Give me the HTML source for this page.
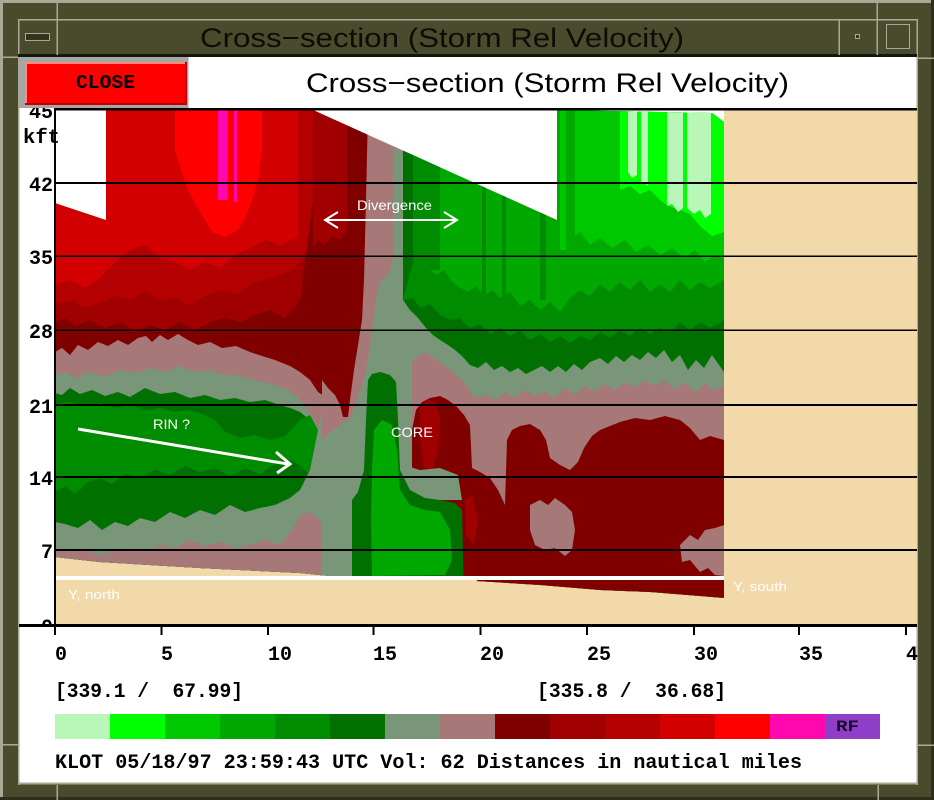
<!DOCTYPE html>
<html><head><meta charset="utf-8"><style>
html,body{margin:0;padding:0;background:#4a4b2c;width:934px;height:800px;overflow:hidden}
svg{display:block}
.m{font-family:"Liberation Mono",monospace;font-weight:bold}
.s{font-family:"Liberation Sans",sans-serif}
</style></head><body>
<svg width="934" height="800" viewBox="0 0 934 800" xmlns="http://www.w3.org/2000/svg">
<defs>
<clipPath id="dc"><polygon points="55,203 106,220 106,110 313,110 557,220 557,110 712,113 724,122 724,598 700,596 650,592 600,590 540,585 477,581 477,577 330,576 300,573 200,568 100,562 55,557"/></clipPath>
</defs>
<!-- frame -->
<rect x="0" y="0" width="934" height="800" fill="#4a4b2c"/>
<rect x="0" y="0" width="934" height="3" fill="#a9a996"/>
<rect x="0" y="0" width="3" height="800" fill="#a9a996"/>
<rect x="931" y="0" width="3" height="800" fill="#2e2f1a"/>
<rect x="0" y="797" width="934" height="3" fill="#2e2f1a"/>
<rect x="18" y="19" width="900" height="1.5" fill="#a9a996"/>
<rect x="18" y="19" width="1.5" height="766" fill="#a9a996"/>
<rect x="916.5" y="19" width="1.5" height="766" fill="#a9a996"/>
<rect x="18" y="782.5" width="900" height="2" fill="#a9a996"/>
<rect x="18" y="54" width="899" height="3" fill="#15160b"/>
<rect x="56.5" y="0" width="1.5" height="55" fill="#a9a996"/>
<rect x="838.5" y="19" width="1.5" height="36" fill="#a9a996"/>
<rect x="876.5" y="0" width="1.5" height="55" fill="#a9a996"/>
<rect x="0" y="56.5" width="18" height="1.5" fill="#a9a996"/>
<rect x="918" y="57.5" width="16" height="1.5" fill="#a9a996"/>
<rect x="0" y="744" width="18" height="1.5" fill="#a9a996"/>
<rect x="918" y="744.5" width="16" height="1.5" fill="#a9a996"/>
<rect x="56.5" y="785" width="1.5" height="15" fill="#a9a996"/>
<rect x="877.5" y="785" width="1.5" height="15" fill="#a9a996"/>
<rect x="25.5" y="33.5" width="24" height="7" fill="#33341e" stroke="#a9a996" stroke-width="1"/>
<rect x="855.5" y="34.5" width="4" height="4" fill="#33341e" stroke="#a9a996" stroke-width="1"/>
<rect x="886.5" y="24.5" width="23" height="24" fill="none" stroke="#a9a996" stroke-width="1"/>
<text x="200" y="47" class="s" font-size="27" fill="#0c0c08" textLength="484" lengthAdjust="spacingAndGlyphs">Cross−section (Storm Rel Velocity)</text>
<!-- content -->
<rect x="19.5" y="57" width="897" height="725.5" fill="#ffffff"/>
<text x="306" y="92" class="s" font-size="27" fill="#000" textLength="483" lengthAdjust="spacingAndGlyphs">Cross−section (Storm Rel Velocity)</text>

<!-- plot background -->
<rect x="55" y="110" width="862" height="515" fill="#f2d9a9"/>
<rect x="55" y="110" width="669" height="130" fill="#ffffff"/>

<g clip-path="url(#dc)">
<!-- left bands -->
<rect x="55" y="110" width="275" height="490" fill="#d20000"/>
<path d="M175 110 H262 V150 L258 180 L252 200 L245 218 L238 230 L225 237 L212 232 L205 220 L196 205 L188 190 L181 170 L175 150 Z" fill="#ff0000"/>
<rect x="218" y="110" width="10" height="90" fill="#ff08b0"/>
<rect x="234" y="110" width="3" height="92" fill="#ff08b0"/>
<rect x="298" y="110" width="15" height="130" fill="#b40000"/>
<path d="M55 285 L70 280 L85 288 L100 278 L115 262 L130 250 L145 245 L160 258 L175 262 L190 270 L205 262 L220 268 L235 255 L250 248 L265 240 L280 245 L295 238 L313 232 L330 232 V600 H55 Z" fill="#b40000"/>
<path d="M55 305 L70 300 L85 308 L100 302 L115 296 L130 300 L145 292 L160 300 L175 298 L190 305 L205 296 L220 290 L235 295 L250 285 L265 280 L280 275 L295 268 L305 255 L313 240 L330 240 V600 H55 Z" fill="#a00000"/>
<path d="M55 322 L65 318 L75 326 L90 320 L105 328 L120 322 L135 332 L150 325 L165 330 L180 322 L195 330 L210 322 L225 318 L240 322 L255 315 L270 310 L285 318 L300 300 L313 290 L330 290 V600 H55 Z" fill="#800000"/>
<path d="M55 352 L62 348 L70 355 L78 345 L88 350 L98 342 L108 346 L118 340 L128 345 L138 338 L146 336 L152 342 L160 335 L168 340 L178 334 L188 340 L198 345 L210 342 L222 348 L236 346 L250 352 L262 356 L275 360 L290 366 L300 372 L310 380 L318 392 L330 400 V600 H55 Z" fill="#a77878"/>
<path d="M55 375 L65 372 L75 378 L90 372 L105 377 L120 370 L135 373 L150 368 L165 372 L180 366 L195 372 L210 370 L225 375 L240 376 L255 380 L270 384 L285 388 L295 395 L305 405 L315 422 L325 445 L330 460 V600 H55 Z" fill="#799679"/>
<path d="M55 393 L62 395 L70 388 L80 394 L92 390 L105 396 L118 392 L130 397 L145 388 L160 394 L175 392 L190 398 L205 395 L220 400 L235 398 L250 402 L265 400 L280 405 L290 408 L300 412 L310 420 L318 440 L322 470 V600 H55 Z" fill="#007000"/>
<path d="M55 404 L70 402 L85 406 L100 403 L115 408 L130 405 L145 410 L160 408 L175 412 L190 410 L205 415 L215 420 L225 432 L240 438 L255 435 L270 440 L285 436 L300 420 L310 415 L318 430 L322 470 V600 H55 Z" fill="#008c00"/>
<path d="M55 492 L65 486 L75 494 L88 482 L100 478 L112 484 L125 474 L140 478 L155 470 L170 475 L185 466 L200 472 L215 468 L230 476 L245 468 L260 474 L275 464 L285 458 L295 462 L305 470 L315 480 L322 500 V600 H55 Z" fill="#007000"/>
<path d="M55 522 L65 524 L78 528 L90 520 L102 530 L115 522 L128 526 L140 518 L155 522 L170 512 L185 518 L200 510 L215 515 L230 505 L245 512 L260 508 L275 505 L290 498 L300 490 L310 470 L318 430 L322 410 V600 H55 Z" fill="#799679"/>
<path d="M55 550 L70 552 L85 548 L100 556 L115 550 L130 548 L145 552 L160 545 L175 548 L190 540 L205 546 L220 542 L235 548 L250 545 L265 540 L280 545 L292 530 L300 515 L310 512 L318 518 L322 525 V600 H55 Z" fill="#a77878"/>

<!-- right side greens -->
<rect x="403" y="110" width="321" height="490" fill="#00a800"/>
<rect x="403" y="110" width="10" height="195" fill="#007000"/>
<rect x="413" y="110" width="27" height="160" fill="#008c00"/>
<rect x="482" y="110" width="4" height="185" fill="#008c00"/>
<rect x="502" y="110" width="4" height="190" fill="#008c00"/>
<rect x="540" y="110" width="6" height="190" fill="#008c00"/>
<rect x="560" y="110" width="6" height="140" fill="#00c800"/>
<path d="M575 110 H724 V258 L715 255 L705 262 L695 250 L685 258 L672 248 L660 255 L648 245 L636 252 L625 240 L612 248 L600 238 L590 245 L580 232 L575 236 Z" fill="#00c800"/>
<path d="M620 110 H724 V232 L712 236 L700 226 L690 214 L680 210 L668 206 L660 200 L650 190 L640 194 L630 186 L620 190 Z" fill="#00ff00"/>
<path d="M628 110 H637 V175 L632 178 L628 172 Z" fill="#b9f7b9"/>
<path d="M641 110 H648 V186 L644 182 L641 184 Z" fill="#b9f7b9"/>
<path d="M667 110 H683 V208 L678 212 L672 204 L667 206 Z" fill="#b9f7b9"/>
<path d="M687 110 H711 V214 L705 218 L700 210 L694 214 L687 208 Z" fill="#b9f7b9"/>
<path d="M403 300 L413 262 L420 265 L428 268 L436 275 L444 270 L452 282 L460 288 L468 292 L476 286 L484 296 L492 290 L500 298 L510 292 L520 306 L530 300 L540 310 L550 302 L560 312 L570 298 L580 290 L590 296 L600 284 L610 292 L620 282 L630 290 L640 280 L650 292 L660 284 L670 292 L680 280 L690 290 L700 282 L710 288 L724 280 V600 H403 Z" fill="#008c00"/>
<path d="M403 300 L413 298 L420 308 L430 304 L440 315 L450 320 L460 318 L470 328 L480 324 L490 334 L500 328 L510 336 L520 330 L530 340 L540 334 L550 342 L560 336 L570 343 L580 336 L590 340 L600 332 L610 338 L620 330 L630 336 L640 328 L650 334 L660 328 L670 332 L680 322 L690 330 L700 322 L710 328 L724 320 V600 H403 Z" fill="#007000"/>
<path d="M403 300 L410 310 L418 318 L426 328 L433 335 L440 340 L448 345 L455 350 L462 356 L470 365 L478 368 L486 362 L494 370 L502 366 L510 372 L518 368 L526 374 L534 370 L542 366 L550 372 L558 366 L566 372 L574 364 L582 370 L590 362 L600 358 L608 364 L616 356 L624 362 L632 355 L640 360 L648 352 L656 358 L664 350 L672 362 L680 355 L688 370 L696 360 L704 368 L712 355 L724 372 V600 H403 Z" fill="#799679"/>
<path d="M412 360 L425 352 L440 362 L450 370 L460 378 L468 388 L475 398 L485 395 L495 400 L505 392 L515 398 L525 390 L535 396 L545 392 L555 398 L565 388 L575 394 L585 386 L595 392 L605 384 L615 390 L625 382 L635 388 L645 380 L655 386 L665 380 L675 390 L685 382 L695 392 L705 384 L715 390 L724 385 V600 H412 Z" fill="#a77878"/>
<path d="M412 430 L416 410 L422 402 L430 398 L440 396 L448 400 L456 406 L464 415 L470 425 L472 468 L480 472 L490 478 L498 490 L505 505 L507 440 L512 430 L520 426 L530 424 L540 430 L546 440 L550 458 L560 465 L570 470 L578 462 L584 448 L592 436 L600 430 L610 426 L620 422 L635 418 L650 420 L665 416 L680 420 L690 428 L700 440 L710 436 L724 440 V600 H412 Z" fill="#800000"/>
<path d="M420 405 L428 400 L436 402 L440 420 L438 450 L432 470 L424 468 L420 440 Z" fill="#a00000"/>
<path d="M465 500 L472 495 L478 520 L474 545 L466 535 Z" fill="#a00000"/>
<path d="M530 505 L540 500 L548 505 L555 498 L565 505 L572 512 L575 530 L572 550 L565 556 L555 548 L545 550 L535 545 L530 530 Z" fill="#a77878"/>
<path d="M680 545 L690 535 L698 540 L705 530 L715 528 L724 525 V576 L715 575 L708 568 L700 572 L690 560 L682 562 Z" fill="#a77878"/>

<!-- middle -->
<rect x="322" y="110" width="81" height="490" fill="#a77878"/>
<path d="M313 200 L347 200 L347 110 H368 L366 200 L364 280 L362 320 L358 345 L354 370 L350 400 L348 417 L343 417 L340 405 L335 395 L328 388 L322 380 L316 370 L310 360 L300 330 L300 300 Z" fill="#800000"/>
<path d="M313 110 H347 V230 L340 240 L332 236 L325 245 L318 240 L313 248 Z" fill="#a00000"/>
<path d="M393 148 L403 152 L403 600 H322 V440 L330 432 L340 425 L350 418 L356 405 L362 385 L368 360 L372 330 L376 300 L380 282 L386 278 L393 260 Z" fill="#799679"/>
<path d="M403 465 L420 470 L440 468 L458 475 L462 500 L403 500 Z" fill="#799679"/>
<path d="M368 380 L372 374 L380 372 L390 375 L396 382 L398 420 L400 470 L410 490 L425 498 L440 500 L455 503 L462 510 L464 600 L352 600 L352 500 L358 492 L364 470 L366 420 Z" fill="#007000"/>
<path d="M374 430 L382 420 L392 425 L397 450 L400 490 L410 505 L425 510 L440 512 L450 530 L452 560 L445 575 L372 576 L371 520 L372 470 Z" fill="#00a800"/>
</g>

<!-- white ground line -->
<rect x="55" y="576" width="669" height="4" fill="#ffffff"/>

<!-- grid lines -->
<rect x="55" y="108" width="862" height="2.5" fill="#000"/>
<rect x="55" y="182" width="862" height="2" fill="#000"/>
<rect x="55" y="255.5" width="862" height="1.5" fill="#000"/>
<rect x="55" y="329.5" width="862" height="1.5" fill="#000"/>
<rect x="55" y="404" width="862" height="2" fill="#000"/>
<rect x="55" y="476" width="862" height="2" fill="#000"/>
<rect x="55" y="549" width="862" height="2" fill="#000"/>

<!-- annotations -->
<g fill="#ffffff" class="s">
<text x="357" y="210" font-size="13.5" textLength="75" lengthAdjust="spacingAndGlyphs">Divergence</text>
<text x="153" y="429" font-size="14" textLength="37" lengthAdjust="spacingAndGlyphs">RIN ?</text>
<text x="391" y="437" font-size="14" textLength="42" lengthAdjust="spacingAndGlyphs">CORE</text>
<text x="68" y="599" font-size="13" textLength="52" lengthAdjust="spacingAndGlyphs">Y, north</text>
<text x="733" y="591" font-size="13" textLength="54" lengthAdjust="spacingAndGlyphs">Y, south</text>
</g>
<g stroke="#ffffff" fill="none">
<line x1="326" y1="220" x2="457" y2="220" stroke-width="2"/>
<polyline points="338,212 325,220 338,228" stroke-width="2"/>
<polyline points="444,212 457,220 444,228" stroke-width="2"/>
<line x1="78" y1="429" x2="288" y2="464" stroke-width="3"/>
<polyline points="276,452 290,464 277,473" stroke-width="3"/>
</g>

<!-- y labels -->
<g class="m" font-size="20" fill="#000" text-anchor="end">
<text x="53" y="118">45</text>
<text x="53" y="191">42</text>
<text x="53" y="264">35</text>
<text x="53" y="338">28</text>
<text x="53" y="413">21</text>
<text x="53" y="485">14</text>
<text x="53" y="558">7</text>
<text x="53" y="633">0</text>
</g>
<text x="23" y="143" class="m" font-size="20" fill="#000" textLength="37" lengthAdjust="spacingAndGlyphs">kft</text>
<rect x="19.5" y="627" width="34" height="12" fill="#ffffff"/>

<!-- axes -->
<rect x="54" y="108" width="2" height="525" fill="#000"/>
<rect x="19" y="624" width="898" height="3" fill="#000"/>
<g fill="#000">
<rect x="54" y="627" width="2" height="8"/>
<rect x="160.5" y="627" width="2" height="8"/>
<rect x="267" y="627" width="2" height="8"/>
<rect x="372.5" y="627" width="2" height="8"/>
<rect x="479.5" y="627" width="2" height="8"/>
<rect x="586" y="627" width="2" height="8"/>
<rect x="693" y="627" width="2" height="8"/>
<rect x="798" y="627" width="2" height="8"/>
<rect x="905" y="627" width="2" height="8"/>
</g>
<g class="m" font-size="20" fill="#000">
<text x="55" y="660">0</text>
<text x="161" y="660">5</text>
<text x="268" y="660">10</text>
<text x="373" y="660">15</text>
<text x="480" y="660">20</text>
<text x="587" y="660">25</text>
<text x="694" y="660">30</text>
<text x="799" y="660">35</text>
<text x="906" y="660">4</text>
</g>

<!-- CLOSE button -->
<rect x="19.5" y="57" width="169" height="51" fill="#a6a6a6"/>
<rect x="25" y="62" width="162" height="43" fill="#ff0000"/>
<rect x="25" y="62" width="162" height="2" fill="#ff8a78"/>
<rect x="25" y="62" width="2" height="43" fill="#ff8a78"/>
<rect x="25" y="103" width="162" height="2" fill="#c00000"/>
<rect x="185" y="62" width="2" height="43" fill="#c00000"/>
<text x="76" y="88" class="m" font-size="19" fill="#000" textLength="59" lengthAdjust="spacingAndGlyphs">CLOSE</text>

<!-- coordinates -->
<g class="m" font-size="20" fill="#000" style="white-space:pre">
<text x="55" y="697" textLength="188" lengthAdjust="spacingAndGlyphs" xml:space="preserve">[339.1 /  67.99]</text>
<text x="537" y="697" textLength="189" lengthAdjust="spacingAndGlyphs" xml:space="preserve">[335.8 /  36.68]</text>
<text x="55" y="768" textLength="747" lengthAdjust="spacingAndGlyphs">KLOT 05/18/97 23:59:43 UTC Vol: 62 Distances in nautical miles</text>
</g>

<!-- legend -->
<rect x="55" y="714" width="55" height="25" fill="#b9f7b9"/>
<rect x="110" y="714" width="55" height="25" fill="#00ff00"/>
<rect x="165" y="714" width="55" height="25" fill="#00c800"/>
<rect x="220" y="714" width="55" height="25" fill="#00a800"/>
<rect x="275" y="714" width="55" height="25" fill="#008c00"/>
<rect x="330" y="714" width="55" height="25" fill="#007000"/>
<rect x="385" y="714" width="55" height="25" fill="#799679"/>
<rect x="440" y="714" width="55" height="25" fill="#a77878"/>
<rect x="495" y="714" width="55" height="25" fill="#800000"/>
<rect x="550" y="714" width="55" height="25" fill="#a00000"/>
<rect x="605" y="714" width="55" height="25" fill="#b40000"/>
<rect x="660" y="714" width="55" height="25" fill="#d20000"/>
<rect x="715" y="714" width="55" height="25" fill="#ff0000"/>
<rect x="770" y="714" width="55" height="25" fill="#ff08b0"/>
<rect x="825" y="714" width="55" height="25" fill="#8f3fc7"/>
<text x="836" y="731" class="m" font-size="16" fill="#1a0a28" textLength="23" lengthAdjust="spacingAndGlyphs">RF</text>
</svg>
</body></html>
